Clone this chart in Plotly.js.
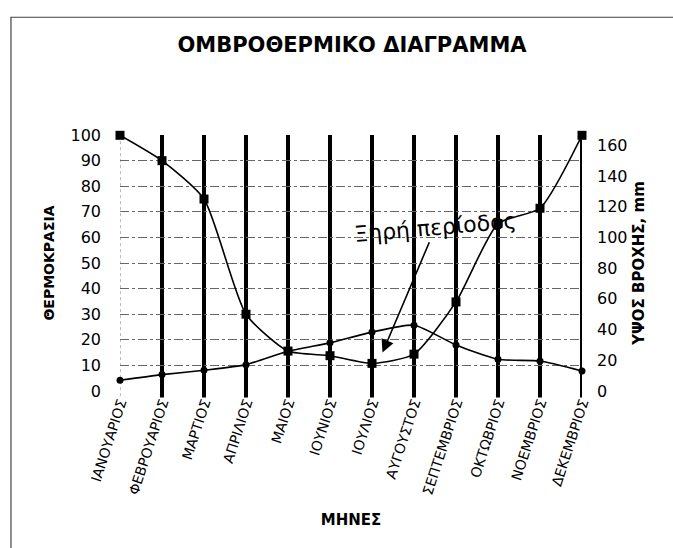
<!DOCTYPE html>
<html>
<head>
<meta charset="utf-8">
<script src="https://cdn.plot.ly/plotly-3.0.1.min.js"></script>
<style>html,body{margin:0;padding:0;background:#fff;}#chart{width:673px;height:548px;}</style>
</head>
<body>
<div id="chart"></div>
<script>
// Months (categories)
const months = ["ΙΑΝΟΥΑΡΙΟΣ","ΦΕΒΡΟΥΑΡΙΟΣ","ΜΑΡΤΙΟΣ","ΑΠΡΙΛΙΟΣ","ΜΑΙΟΣ","ΙΟΥΝΙΟΣ","ΙΟΥΛΙΟΣ","ΑΥΓΟΥΣΤΟΣ","ΣΕΠΤΕΜΒΡΙΟΣ","ΟΚΤΩΒΡΙΟΣ","ΝΟΕΜΒΡΙΟΣ","ΔΕΚΕΜΒΡΙΟΣ"];
// Temperature (left axis)
const temperature = [4.2, 6.4, 8.1, 10.3, 15.5, 18.8, 23.0, 25.7, 18.0, 12.4, 11.7, 7.8];
// Rainfall in mm (right axis)
const rainfall = [166.5, 150, 125, 50, 26, 23, 18, 24, 58, 109, 119, 166.5];
// Tick labels
const tempTicks = [0,10,20,30,40,50,60,70,80,90,100];
const rainTicks = [0,20,40,60,80,100,120,140,160];

const idx = months.map((m,i)=>i);
const font = "DejaVu Sans, sans-serif";

const traces = [
  {
    x: idx, y: rainfall, yaxis: "y2", type: "scatter", mode: "lines+markers",
    name: "ΥΨΟΣ ΒΡΟΧΗΣ", cliponaxis: false,
    line: {color: "#000", width: 1.6, shape: "spline", smoothing: 0.6},
    marker: {symbol: "square", size: 9, color: "#000"}
  },
  {
    x: idx, y: temperature, yaxis: "y", type: "scatter", mode: "lines+markers",
    name: "ΘΕΡΜΟΚΡΑΣΙΑ", cliponaxis: false,
    line: {color: "#000", width: 1.6, shape: "spline", smoothing: 0.6},
    marker: {symbol: "circle", size: 7, color: "#000"}
  }
];

const shapes = [];
idx.forEach((i) => {
  if (i === 0) {
    shapes.push({type:"line", xref:"x", yref:"paper", x0:i, x1:i, y0:-0.02, y1:1, line:{color:"#777", width:1, dash:"dot"}, layer:"below"});
  } else {
    shapes.push({type:"line", xref:"x", yref:"paper", x0:i, x1:i, y0:-0.025, y1:1, line:{color:"#000", width:4}, layer:"below"});
  }
});
// page frame
shapes.push({type:"rect", xref:"paper", yref:"paper", x0:-0.236, x1:1.4, y0:-0.8, y1:1.46, line:{color:"#444", width:1.2}});

const layout = {
  width: 673, height: 548,
  paper_bgcolor: "#fff", plot_bgcolor: "#fff",
  margin: {l: 120, r: 91, t: 135, b: 157},
  showlegend: false,
  title: {text: "<b>ΟΜΒΡΟΘΕΡΜΙΚΟ ΔΙΑΓΡΑΜΜΑ</b>", font: {family: font, size: 21, color: "#000"},
          x: 0.523, xanchor: "center", y: 0.918, yanchor: "middle", yref: "container"},
  xaxis: {
    range: [0, 11], tickmode: "array", tickvals: idx, ticktext: months,
    tickangle: -72, tickfont: {family: font, size: 14, color: "#000"},
    showgrid: false, zeroline: false, showline: false, ticks: "",
    title: {text: "<b>ΜΗΝΕΣ</b>", font: {family: font, size: 15, color: "#000"}, standoff: 18}
  },
  yaxis: {
    range: [0, 100], tickmode: "array", tickvals: tempTicks,
    tickfont: {family: font, size: 16, color: "#000"},
    showgrid: true, gridcolor: "#666", gridwidth: 1, griddash: "dashdot",
    zeroline: false, showline: false, ticks: "", ticklabelstandoff: 18,
    title: {text: "<b>ΘΕΡΜΟΚΡΑΣΙΑ</b>", font: {family: font, size: 14, color: "#000"}, standoff: 12}
  },
  yaxis2: {
    overlaying: "y", side: "right", range: [0, 166.7],
    tickmode: "array", tickvals: rainTicks,
    tickfont: {family: font, size: 16, color: "#000"},
    showgrid: false, zeroline: false, showline: false, ticks: "", ticklabelstandoff: 14,
    title: {text: "<b>ΥΨΟΣ ΒΡΟΧΗΣ, mm</b>", font: {family: font, size: 15, color: "#000"}, standoff: 6}
  },
  shapes: shapes,
  annotations: [
    {
      xref: "x", yref: "y", x: 6.25, y: 15,
      text: "Ξηρή περίοδος", font: {family: font, size: 22, color: "#000"},
      textangle: -5, showarrow: true, arrowhead: 2, arrowsize: 1.6, arrowwidth: 1.6, arrowcolor: "#000",
      ax: 53, ay: -125, standoff: 0
    }
  ]
};

Plotly.newPlot("chart", traces, layout, {staticPlot: true, displayModeBar: false});
</script>
</body>
</html>
